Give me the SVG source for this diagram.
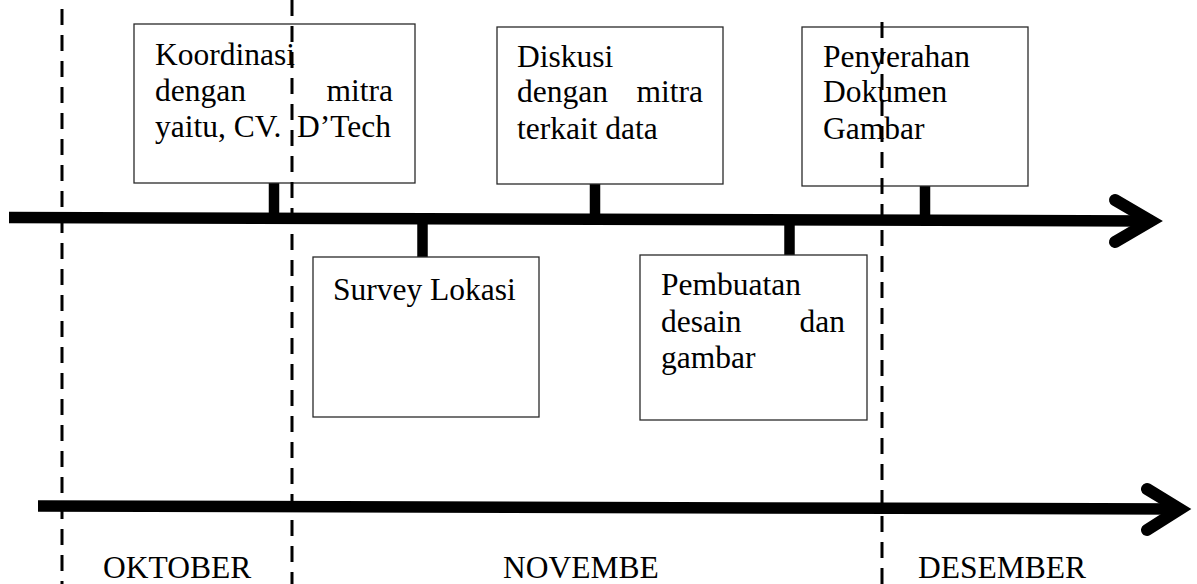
<svg xmlns="http://www.w3.org/2000/svg" width="1197" height="584" viewBox="0 0 1197 584">
  <style>
    .box { fill: #ffffff; stroke: #2a2a2a; stroke-width: 1.3; }
    .label { font-family: "Liberation Serif", "Times New Roman", serif; font-size: 31.5px; fill: #000000; }
    .end { text-anchor: end; }
    .axis { stroke: #000000; stroke-width: 11.5; fill: none; }
    .head { stroke: #000000; stroke-width: 12; fill: none; stroke-linecap: round; stroke-linejoin: miter; stroke-miterlimit: 10; }
    .stem { stroke: #000000; stroke-width: 10.5; }
    .divider { stroke: #000000; stroke-width: 3; stroke-dasharray: 16 10; }
  </style>

  <!-- timeline axes and the stems joining each activity box -->
  <g id="connectors">
    <line class="axis" x1="9" y1="217.5" x2="1150" y2="221"/>
    <polyline class="head" points="1115,200 1151,221 1115,242"/>
    <line class="axis" x1="38" y1="506" x2="1180" y2="509"/>
    <polyline class="head" points="1147,489 1180,509 1147,530"/>

    <line class="stem" x1="274" y1="183" x2="274" y2="214"/>
    <line class="stem" x1="595" y1="184" x2="595" y2="215"/>
    <line class="stem" x1="925" y1="186" x2="925" y2="217"/>
    <line class="stem" x1="422.5" y1="222" x2="422.5" y2="257"/>
    <line class="stem" x1="789.5" y1="223" x2="789.5" y2="255"/>
  </g>

  <g id="node-koordinasi">
    <rect class="box" x="134" y="24" width="281" height="159"/>
    <text class="label" x="155" y="65">Koordinasi</text>
    <text class="label" x="155" y="101">dengan</text>
    <text class="label end" x="393" y="101">mitra</text>
    <text class="label" x="155" y="137">yaitu, CV.</text>
    <text class="label end" x="391" y="137">D’Tech</text>
  </g>

  <g id="node-survey">
    <rect class="box" x="313" y="257" width="226" height="160"/>
    <text class="label" x="333" y="300">Survey Lokasi</text>
  </g>

  <g id="node-diskusi">
    <rect class="box" x="497" y="27" width="226" height="157"/>
    <text class="label" x="517" y="67">Diskusi</text>
    <text class="label" x="517" y="102">dengan</text>
    <text class="label end" x="703" y="102">mitra</text>
    <text class="label" x="517" y="139">terkait data</text>
  </g>

  <g id="node-pembuatan">
    <rect class="box" x="640" y="255" width="227" height="165"/>
    <text class="label" x="661" y="295">Pembuatan</text>
    <text class="label" x="661" y="332">desain</text>
    <text class="label end" x="845" y="332">dan</text>
    <text class="label" x="661" y="368">gambar</text>
  </g>

  <g id="node-penyerahan">
    <rect class="box" x="802" y="27" width="226" height="159"/>
    <text class="label" x="823" y="67">Penyerahan</text>
    <text class="label" x="823" y="102">Dokumen</text>
    <text class="label" x="823" y="139">Gambar</text>
  </g>

  <!-- month boundaries -->
  <g id="dividers">
    <line class="divider" x1="62" y1="9" x2="62" y2="584"/>
    <line class="divider" x1="292" y1="0" x2="292" y2="584"/>
    <line class="divider" x1="882" y1="22" x2="882" y2="584"/>
  </g>

  <g id="months">
    <text class="label" x="103" y="578">OKTOBER</text>
    <text class="label" x="503" y="578">NOVEMBE</text>
    <text class="label" x="918" y="578">DESEMBER</text>
  </g>
</svg>
